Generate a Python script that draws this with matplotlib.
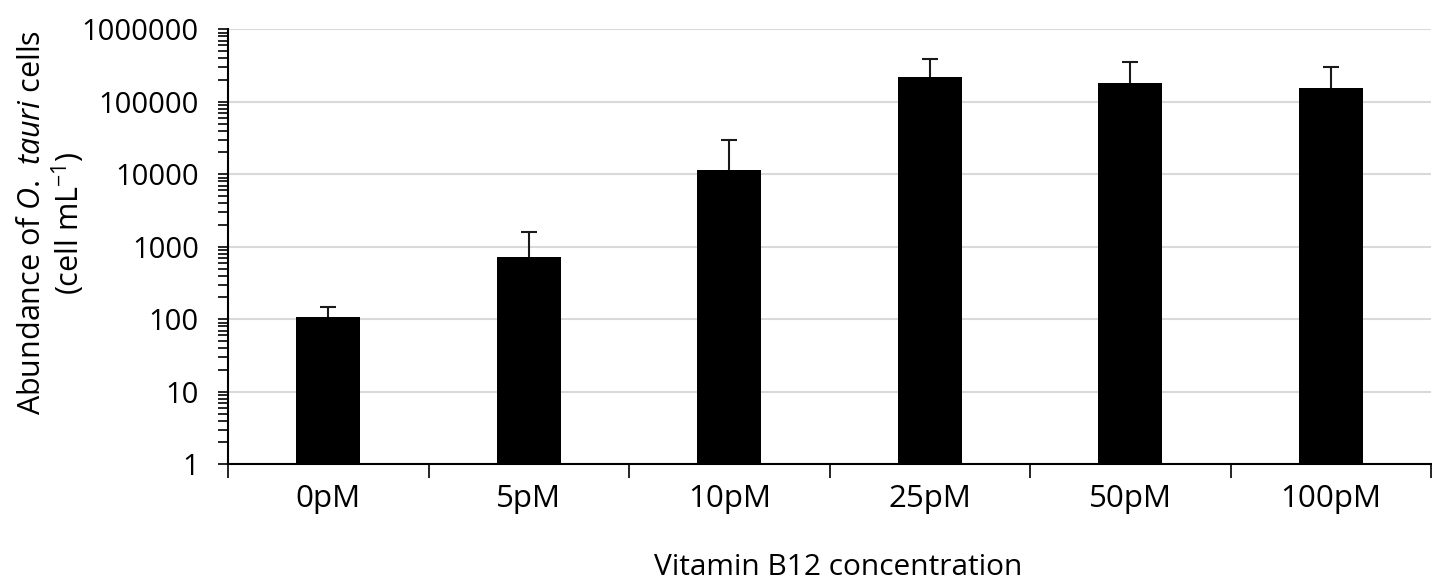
"""Abundance of O. tauri cells vs vitamin B12 concentration (log-scale bar chart)."""

import matplotlib
matplotlib.use("Agg")
import matplotlib.pyplot as plt
from matplotlib.ticker import LogLocator, FixedLocator, NullFormatter

plt.rcParams["font.family"] = ["Open Sans", "DejaVu Sans"]
plt.rcParams["mathtext.fontset"] = "custom"
plt.rcParams["mathtext.rm"] = "Open Sans"
plt.rcParams["mathtext.it"] = "Open Sans:italic"

concentrations = ["0pM", "5pM", "10pM", "25pM", "50pM", "100pM"]
abundance      = [109, 723, 11400, 222000, 184000, 157000]
upper_bound    = [147, 1620, 29700, 385000, 351000, 302000]
y_ticks        = [1, 10, 100, 1000, 10000, 100000, 1000000]

err_up = [u - v for u, v in zip(upper_bound, abundance)]
x = list(range(len(concentrations)))

fig = plt.figure(figsize=(14.32, 5.82), dpi=100)
ax = fig.add_axes([228 / 1432, (582 - 464.3) / 582, 1203 / 1432, 435 / 582])

ax.bar(x, abundance, width=0.32, color="black", zorder=3)
_, caps, _ = ax.errorbar(x, abundance, yerr=[[0] * len(x), err_up], fmt="none",
                         ecolor="#1a1a1a", elinewidth=1.5, capsize=6,
                         capthick=1.5, zorder=4)
caps[0].set_visible(False)  # no cap on the (empty) lower side

ax.set_yscale("log")
ax.set_ylim(1, 1000000)
ax.set_xlim(-0.5, len(x) - 0.5)
ax.yaxis.set_major_locator(FixedLocator(y_ticks))
ax.set_yticklabels([str(t) for t in y_ticks])
ax.yaxis.set_minor_locator(LogLocator(base=10, subs=range(2, 10), numticks=20))
ax.yaxis.set_minor_formatter(NullFormatter())
ax.grid(axis="y", which="major", color="#d9d9d9", linewidth=1.5, zorder=0)

# category boundaries carry the tick marks, labels sit at the centres
ax.xaxis.set_major_locator(FixedLocator([i - 0.5 for i in range(len(x) + 1)]))
ax.xaxis.set_major_formatter(NullFormatter())
ax.xaxis.set_minor_locator(FixedLocator(x))
ax.set_xticklabels(concentrations, minor=True)
ax.tick_params(axis="x", which="major", direction="out", length=10, width=1.2)
ax.tick_params(axis="x", which="minor", length=0, labelsize=22.5, pad=14)
ax.tick_params(axis="y", which="both", direction="out", length=7, width=1.2,
               labelsize=21, pad=14)

for side in ("top", "right"):
    ax.spines[side].set_visible(False)
for side in ("left", "bottom"):
    ax.spines[side].set_linewidth(1.5)

ax.set_xlabel("Vitamin B12 concentration", fontsize=21.5)
ax.xaxis.set_label_coords(0.507, -0.205)
ax.set_ylabel("Abundance of $\\mathit{O.\\ tauri}$ cells\n(cell mL$^{-1}$)",
              fontsize=22, linespacing=1.1)
ax.yaxis.set_label_coords(-0.117, 0.555)

plt.savefig("out.png", dpi=100)
plt.close()
